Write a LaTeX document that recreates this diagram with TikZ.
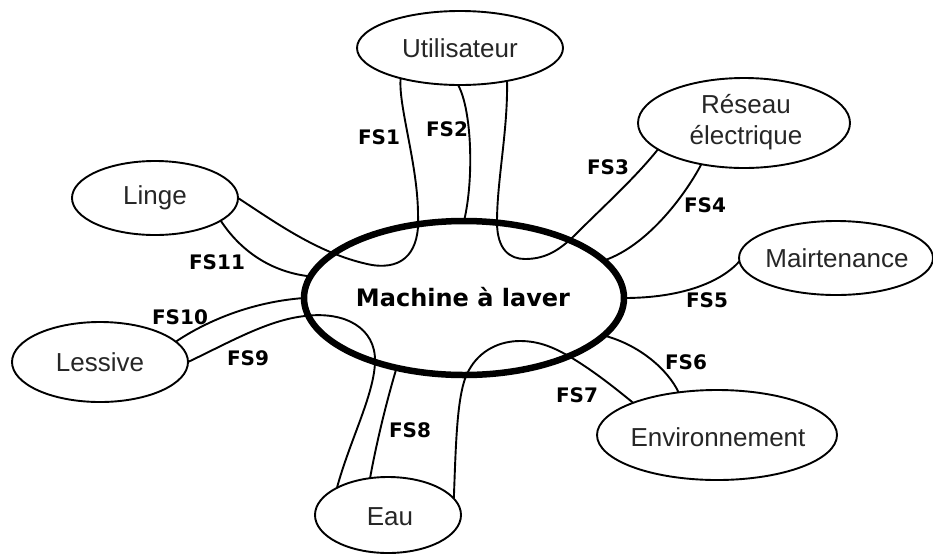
\documentclass[tikz,border=0pt]{standalone}
\usepackage{fontspec}
\setmainfont{Liberation Sans}
\newfontfamily\fsfont{DejaVu Sans}
\usetikzlibrary{shapes.geometric}
\begin{document}
\begin{tikzpicture}[x=1pt,y=-1pt,
  actor/.style={ellipse, draw, line width=1.9pt, inner sep=0pt, outer sep=0pt},
  actortext/.style={inner sep=0pt, align=center, text=black!85,
    font=\fontsize{26}{31}\selectfont},
  product/.style={ellipse, draw, line width=6.5pt, inner sep=0pt, outer sep=0pt},
  producttext/.style={inner sep=0pt, font=\fsfont\bfseries\fontsize{24}{28}\selectfont},
  link/.style={line width=1.9pt},
  fs/.style={inner sep=0pt, font=\fsfont\bfseries\fontsize{20}{22}\selectfont}
]
\useasboundingbox (0,0) rectangle (933,555);

% the product
\node[product, minimum width=320pt, minimum height=154pt] (mach) at (464,298) {};
\node[producttext] (macht) at (463,297) {Machine à laver};

% surrounding elements
\node[actor, minimum width=206pt, minimum height=74pt] (util) at (460,48) {};
\node[actortext] (utilt) at (util) {Utilisateur};
\node[actor, minimum width=212pt, minimum height=90pt] (res) at (744,123) {};
\node[actortext] (rest) at (746,122) {Réseau\\électrique};
\node[actor, minimum width=194pt, minimum height=74pt] (maint) at (836,258) {};
\node[actortext] (maintt) at (837,258) {Mairtenance};
\node[actor, minimum width=166pt, minimum height=74pt] (linge) at (155,198) {};
\node[actortext] (linget) at (linge) {Linge};
\node[actor, minimum width=176pt, minimum height=80pt] (less) at (100,362) {};
\node[actortext] (lesst) at (less) {Lessive};
\node[actor, minimum width=146pt, minimum height=76pt] (eau) at (388,515) {};
\node[actortext] (eaut) at (390,517) {Eau};
\node[actor, minimum width=240pt, minimum height=90pt] (env) at (717,435) {};
\node[actortext] (envt) at (718,437) {Environnement};

% functions
\draw[link] (linge.east) .. controls (275,222) and (320,255) .. (372,265)
  .. controls (405,270) and (420,250) .. (418,215)
  .. controls (418,165) and (398,105) .. (util.207);
\draw[link] (util.267) .. controls (472,110) and (474,180) .. (mach.90);
\draw[link] (util.325) .. controls (508,130) and (497,180) .. (497,222)
  .. controls (497,250) and (510,259) .. (525,259)
  .. controls (548,259) and (562,248) .. (578,232)
  .. controls (605,205) and (635,178) .. (res.197);
\draw[link] (res.224) .. controls (688,190) and (650,245) .. (mach.15);
\draw[link] (maint.182) .. controls (720,283) and (680,298) .. (mach.0);
\draw[link] (env.132) .. controls (668,370) and (640,345) .. (mach.345);
\draw[link] (eau.14) .. controls (456,440) and (457,390) .. (469,370)
  .. controls (480,350) and (500,341) .. (520,341)
  .. controls (540,341) and (555,348) .. (572,358)
  .. controls (595,372) and (615,388) .. (env.159);
\draw[link] (eau.116) .. controls (377,440) and (387,400) .. (mach.226);
\draw[link] (less.east) .. controls (230,342) and (268,320) .. (305,316)
  .. controls (345,311) and (376,328) .. (375,362)
  .. controls (374,395) and (350,440) .. (eau.152);
\draw[link] (less.15) .. controls (205,322) and (250,302) .. (mach.180);
\draw[link] (linge.341) .. controls (240,250) and (270,272) .. (mach.172);

% function labels
\node[fs] (fs1) at (379,137) {FS1};
\node[fs] (fs2) at (447,129) {FS2};
\node[fs] (fs3) at (608,167) {FS3};
\node[fs] (fs4) at (705,205) {FS4};
\node[fs] (fs5) at (707,300) {FS5};
\node[fs] (fs6) at (686,362) {FS6};
\node[fs] (fs7) at (577,395) {FS7};
\node[fs] (fs8) at (410,430) {FS8};
\node[fs] (fs9) at (248,358) {FS9};
\node[fs] (fs10) at (180,317) {FS10};
\node[fs] (fs11) at (217,262) {FS11};
\end{tikzpicture}
\end{document}
